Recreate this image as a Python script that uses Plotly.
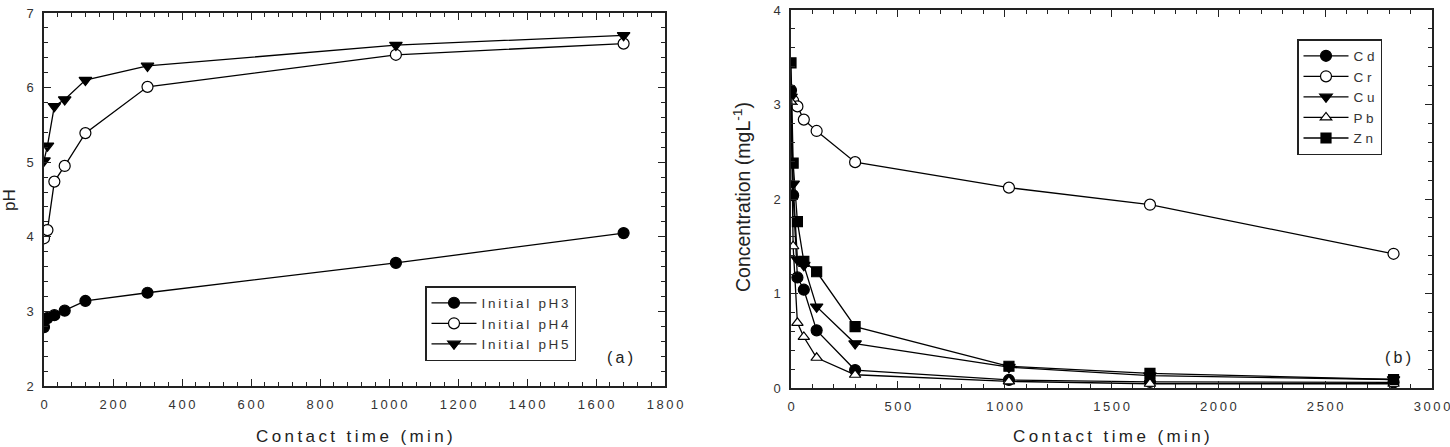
import plotly.graph_objects as go

# ---------------- data ----------------
time_a = [0, 10, 30, 60, 120, 300, 1020, 1680]
ph3 = [2.79, 2.91, 2.95, 3.01, 3.14, 3.25, 3.65, 4.05]
ph4 = [3.98, 4.09, 4.74, 4.95, 5.39, 6.01, 6.44, 6.59]
ph5 = [5.02, 5.22, 5.75, 5.84, 6.10, 6.29, 6.57, 6.70]

time_b = [0, 10, 30, 60, 120, 300, 1020, 1680, 2820]
cd = [3.15, 2.04, 1.17, 1.04, 0.61, 0.19, 0.085, 0.065, 0.06]
cr = [3.05, 3.04, 2.98, 2.84, 2.72, 2.39, 2.12, 1.94, 1.42]
cu = [3.08, 2.16, 1.36, 1.30, 0.86, 0.47, 0.22, 0.13, 0.09]
pb = [3.03, 1.50, 0.69, 0.54, 0.32, 0.14, 0.07, 0.045, 0.045]
zn = [3.44, 2.38, 1.76, 1.34, 1.23, 0.65, 0.23, 0.155, 0.09]

xa_ticks = [0, 200, 400, 600, 800, 1000, 1200, 1400, 1600, 1800]
ya_ticks = [2, 3, 4, 5, 6, 7]
xb_ticks = [0, 500, 1000, 1500, 2000, 2500, 3000]
yb_ticks = [0, 1, 2, 3, 4]

names_a = ["Initial pH3", "Initial pH4", "Initial pH5"]
names_b = ["Cd", "Cr", "Cu", "Pb", "Zn"]

# ---------------- style ----------------
FONT = "Arial, Liberation Sans, sans-serif"
THIN = "\u2009"


def spaced(s, sep=THIN):
    return sep.join(list(s))


W, H = 1450, 447
def px_x(p):
    return p / W
def px_y(p):
    return 1 - p / H

fig = go.Figure()

line_style = dict(color="black", width=1.3)

def add(x, y, name, symbol, fill, xa, ya, legend, size=11, sep=THIN):
    fig.add_trace(go.Scatter(
        x=x, y=y, name=spaced(name, sep), mode="lines+markers",
        line=line_style,
        marker=dict(symbol=symbol, size=size, color=fill,
                    line=dict(color="black", width=1.2)),
        xaxis=xa, yaxis=ya, legend=legend))

add(time_a, ph3, names_a[0], "circle", "black", "x", "y", "legend")
add(time_a, ph4, names_a[1], "circle", "white", "x", "y", "legend")
add(time_a, ph5, names_a[2], "triangle-down", "black", "x", "y", "legend")

add(time_b, cd, names_b[0], "circle", "black", "x2", "y2", "legend2", sep=" ")
add(time_b, cr, names_b[1], "circle", "white", "x2", "y2", "legend2", sep=" ")
add(time_b, cu, names_b[2], "triangle-down", "black", "x2", "y2", "legend2", sep=" ")
add(time_b, pb, names_b[3], "triangle-up", "white", "x2", "y2", "legend2", size=10, sep=" ")
add(time_b, zn, names_b[4], "square", "black", "x2", "y2", "legend2", size=10, sep=" ")

tickfont = dict(family=FONT, size=13, color="#333")
axis_common = dict(
    showline=True, linecolor="#222", linewidth=1.5, mirror="ticks",
    ticks="inside", ticklen=7, tickwidth=1.2, tickcolor="#222",
    showgrid=False, zeroline=False, tickfont=tickfont, automargin=False,
    ticklabeloverflow="allow",
)

def ax(tickvals, rng, domain, minor_dtick, anchor, standoff):
    return dict(
        axis_common, range=rng, domain=domain, anchor=anchor,
        tickmode="array", tickvals=tickvals,
        ticktext=[spaced(str(v)) for v in tickvals],
        ticklabelstandoff=standoff,
        minor=dict(ticks="inside", ticklen=4, tickwidth=1.2,
                   tickcolor="#222", dtick=minor_dtick, showgrid=False),
    )

legend_common = dict(xanchor="left", yanchor="top",
                     bordercolor="#222", borderwidth=1.5, bgcolor="white",
                     font=dict(family=FONT, size=13.5, color="#333"),
                     tracegroupgap=0, itemwidth=45)

fig.update_layout(
    width=W, height=H,
    margin=dict(l=0, r=0, t=0, b=0, autoexpand=False),
    paper_bgcolor="white", plot_bgcolor="white",
    font=dict(family=FONT, color="#222"),
    xaxis=ax(xa_ticks, [0, 1800], [px_x(44), px_x(665)], 40, "y", 6),
    yaxis=ax(ya_ticks, [2, 7], [px_y(386), px_y(13)], 0.2, "x", 6),
    xaxis2=ax(xb_ticks, [0, 3000], [px_x(791), px_x(1432)], 100, "y2", 6),
    yaxis2=ax(yb_ticks, [0, 4], [px_y(388), px_y(10)], 0.2, "x2", 6),
    legend=dict(legend_common, x=px_x(425), y=px_y(286)),
    legend2=dict(legend_common, x=px_x(1297), y=px_y(39)),
    showlegend=True,
)

ann = [
    dict(text=spaced("Contact time (min)"), x=px_x(354.5), y=px_y(436),
         font=dict(size=17)),
    dict(text=spaced("Contact time (min)"), x=px_x(1111.5), y=px_y(436),
         font=dict(size=17)),
    dict(text="pH", x=px_x(9), y=px_y(200), textangle=-90,
         font=dict(size=17)),
    dict(text="Concentration (mgL<sup>-1</sup>)", x=px_x(742), y=px_y(197),
         textangle=-90, font=dict(size=19.5)),
    dict(text=spaced("(a)"), x=px_x(620), y=px_y(357), font=dict(size=16)),
    dict(text=spaced("(b)"), x=px_x(1398), y=px_y(357), font=dict(size=16)),
]
for a in ann:
    a.update(xref="paper", yref="paper", showarrow=False,
             xanchor="center", yanchor="middle")
    a["font"].update(family=FONT, color="#222")
fig.update_layout(annotations=ann)

fig.write_html("out.html")
